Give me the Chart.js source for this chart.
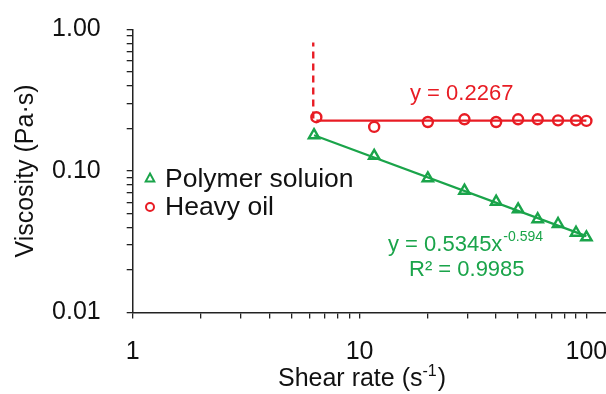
<!DOCTYPE html>
<html>
<head>
<meta charset="utf-8">
<script src="https://cdn.jsdelivr.net/npm/chart.js@4/dist/chart.umd.min.js"></script>
<style>
  html, body { margin: 0; padding: 0; background: #fff; }
  #wrap { width: 606px; height: 394px; position: relative; }
</style>
</head>
<body>
<div id="wrap"><canvas id="c" width="606" height="394"></canvas></div>
<script>
// Measured viscosity vs shear rate
const shearRatePolymer = [6.3, 11.6, 20.0, 29.0, 40.0, 50.0, 61.0, 75.0, 90.0, 100.0];
const viscosityPolymer = [0.179, 0.128, 0.0888, 0.0726, 0.0607, 0.0536, 0.0456, 0.0422, 0.0366, 0.0340];
const shearRateOil = [6.45, 11.6, 20.0, 29.0, 40.0, 50.0, 61.0, 75.0, 90.0, 100.0];
const viscosityOil = [0.240, 0.205, 0.222, 0.232, 0.222, 0.232, 0.232, 0.228, 0.228, 0.226];

// Fitted models
const oilFitValue = 0.2267;               // Newtonian plateau
const polymerFitA = 0.5345;               // power law  y = A x^B
const polymerFitB = -0.594;
const polymerFitR2 = 0.9985;

// Yield onset of the heavy oil (vertical dashed marker)
const oilOnsetRate = 6.25;
const oilOnsetViscosity = [0.235, 0.81];

// Axis ticks
const xDecades = [1, 10];
const xMaxTick = 100;
const yDecades = [0.01, 0.1];
const yMaxTick = 1;
const xTickLabels = ['1', '10', '100'];
const xLabelValues = [1, 10, 100];
const yTickLabels = ['0.01', '0.10', '1.00'];
const yLabelValues = [0.01, 0.1, 1];

const legendLabels = ['Polymer soluion', 'Heavy oil'];

const RED = 'rgb(232,28,36)';
const GREEN = 'rgb(26,164,74)';
const FONT = '"Liberation Sans", Arial, sans-serif';

const pts = (xs, ys) => xs.map((x, i) => ({ x, y: ys[i] }));
const fitX = [shearRatePolymer[0], shearRatePolymer[shearRatePolymer.length - 1]];
const polymerFit = fitX.map(x => ({ x, y: polymerFitA * Math.pow(x, polymerFitB) }));
const oilFitX = [shearRateOil[0], shearRateOil[shearRateOil.length - 1]];
const oilFit = oilFitX.map(x => ({ x, y: oilFitValue }));
const oilOnset = oilOnsetViscosity.map(y => ({ x: oilOnsetRate, y }));

function decadeTicks(decades, top) {
  const out = [];
  decades.forEach(d => { for (let m = 1; m <= 9; m++) out.push({ value: +(m * d).toPrecision(6) }); });
  out.push({ value: top });
  return out;
}
function labelFor(values, labels, v) {
  for (let i = 0; i < values.length; i++) {
    if (Math.abs(Math.log10(v) - Math.log10(values[i])) < 1e-6) return labels[i];
  }
  return '';
}

// Text annotations, legend and x title with superscript
const annotations = {
  id: 'annotations',
  afterDraw(chart) {
    const ctx = chart.ctx;
    ctx.save();
    ctx.textBaseline = 'alphabetic';
    ctx.textAlign = 'left';

    // legend
    const lx = 150;
    const rows = [
      { y: 178, style: 'triangle', color: GREEN, text: legendLabels[0], base: 187 },
      { y: 207, style: 'circle', color: RED, text: legendLabels[1], base: 215 }
    ];
    rows.forEach(r => {
      ctx.strokeStyle = r.color;
      ctx.lineWidth = 2;
      ctx.beginPath();
      if (r.style === 'triangle') {
        const s = 4.5;
        ctx.moveTo(lx, r.y - s);
        ctx.lineTo(lx + s * 0.95, r.y + s * 0.75);
        ctx.lineTo(lx - s * 0.95, r.y + s * 0.75);
        ctx.closePath();
      } else {
        ctx.arc(lx, r.y, 4, 0, Math.PI * 2);
      }
      ctx.stroke();
      ctx.fillStyle = '#111';
      ctx.font = '26.5px ' + FONT;
      ctx.fillText(r.text, 165, r.base);
    });

    // heavy oil fit label
    ctx.fillStyle = RED;
    ctx.font = '22px ' + FONT;
    ctx.fillText('y = ' + oilFitValue, 410, 100);

    // polymer fit label
    ctx.fillStyle = GREEN;
    ctx.font = '22px ' + FONT;
    const main = 'y = ' + polymerFitA + 'x';
    ctx.fillText(main, 388, 251);
    const w = ctx.measureText(main).width;
    ctx.font = '14px ' + FONT;
    ctx.fillText(String(polymerFitB), 388 + w + 1, 241);
    ctx.font = '22px ' + FONT;
    ctx.fillText('R\u00B2 = ' + polymerFitR2, 409, 276);

    // x axis title
    ctx.fillStyle = '#111';
    const t1 = 'Shear rate (s', sup = '-1', t2 = ')';
    ctx.font = '25px ' + FONT;
    const w1 = ctx.measureText(t1).width, w3 = ctx.measureText(t2).width;
    ctx.font = '16px ' + FONT;
    const w2 = ctx.measureText(sup).width;
    const total = w1 + w2 + w3 + 1;
    let x0 = 362 - total / 2;
    ctx.font = '25px ' + FONT;
    ctx.fillText(t1, x0, 386);
    ctx.font = '16px ' + FONT;
    ctx.fillText(sup, x0 + w1, 376);
    ctx.font = '25px ' + FONT;
    ctx.fillText(t2, x0 + w1 + w2 + 1, 386);
    ctx.restore();
  }
};

new Chart(document.getElementById('c'), {
  type: 'scatter',
  data: {
    datasets: [
      {
        label: 'Heavy oil fit', data: oilFit, showLine: true, pointRadius: 0,
        borderColor: RED, borderWidth: 2.2, fill: false
      },
      {
        label: 'Heavy oil onset', data: oilOnset, showLine: true, pointRadius: 0,
        borderColor: RED, borderWidth: 2.4, borderDash: [7, 5], fill: false
      },
      {
        label: 'Polymer fit', data: polymerFit, showLine: true, pointRadius: 0,
        borderColor: GREEN, borderWidth: 2.2, fill: false
      },
      {
        label: legendLabels[1], data: pts(shearRateOil, viscosityOil),
        pointStyle: 'circle', pointRadius: 5, pointBorderWidth: 2.4,
        borderColor: RED, backgroundColor: 'rgba(0,0,0,0)', showLine: false
      },
      {
        label: legendLabels[0], data: pts(shearRatePolymer, viscosityPolymer),
        pointStyle: 'triangle', pointRadius: 6, pointBorderWidth: 2.4,
        borderColor: GREEN, backgroundColor: 'rgba(0,0,0,0)', showLine: false
      }
    ]
  },
  options: {
    responsive: false,
    animation: false,
    devicePixelRatio: 1,
    layout: { autoPadding: false, padding: { top: 29.5, right: 0, bottom: 0, left: 0 } },
    plugins: { legend: { display: false }, tooltip: { enabled: false } },
    scales: {
      x: {
        type: 'logarithmic',
        min: 1, max: 122,
        afterBuildTicks: s => { s.ticks = decadeTicks(xDecades, xMaxTick); },
        afterFit: s => { s.height = 81.5; s.paddingLeft = 0; s.paddingRight = 0; },
        border: { display: true, color: '#222', width: 1.5 },
        grid: { display: true, drawOnChartArea: false, drawTicks: true, tickLength: 6, color: '#222', lineWidth: 1.3 },
        ticks: {
          autoSkip: false, maxRotation: 0, padding: 19, color: '#111',
          font: { family: FONT, size: 25 },
          callback: v => labelFor(xLabelValues, xTickLabels, v)
        }
      },
      y: {
        type: 'logarithmic',
        min: 0.01, max: 1,
        afterBuildTicks: s => { s.ticks = decadeTicks(yDecades, yMaxTick); },
        afterFit: s => { s.width = 132.7; s.paddingTop = 0; s.paddingBottom = 0; },
        border: { display: true, color: '#222', width: 1.5 },
        grid: { display: true, drawOnChartArea: false, drawTicks: true, tickLength: 6, color: '#222', lineWidth: 1.3 },
        title: { display: true, text: 'Viscosity (Pa\u00B7s)', color: '#111', font: { family: FONT, size: 25 }, padding: { top: 11, bottom: 0 } },
        ticks: {
          autoSkip: false, padding: 26, color: '#111',
          font: { family: FONT, size: 25 },
          callback: v => labelFor(yLabelValues, yTickLabels, v)
        }
      }
    }
  },
  plugins: [annotations]
});
</script>
</body>
</html>
